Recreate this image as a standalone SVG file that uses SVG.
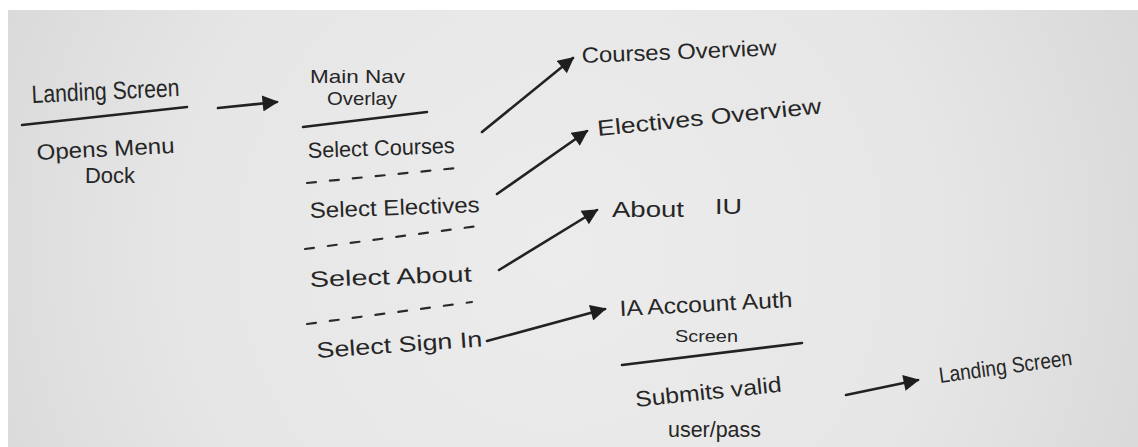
<svg xmlns="http://www.w3.org/2000/svg" width="1138" height="447" viewBox="0 0 1138 447">
  <defs>
    <radialGradient id="paper" cx="560" cy="250" r="640" gradientUnits="userSpaceOnUse">
      <stop offset="0" stop-color="#ececec"/>
      <stop offset="0.6" stop-color="#e6e6e6"/>
      <stop offset="1" stop-color="#d8d8d8"/>
    </radialGradient>
    <marker id="head" viewBox="0 0 10 10" refX="9" refY="5" markerWidth="17" markerHeight="16" markerUnits="userSpaceOnUse" orient="auto">
      <path d="M0,0 L10,5 L0,10 z" fill="#1e1e1e"/>
    </marker>
  </defs>
  <style>
    .ink { font-family: "Liberation Sans", Arial, sans-serif; fill: #262626; }
    .lg { font-size: 25px; }
    .md { font-size: 22px; }
    .sm { font-size: 19px; }
    .xs { font-size: 17px; }
    .rule { stroke: #222; stroke-width: 2.6; fill: none; stroke-linecap: round; }
    .dash { stroke: #2a2a2a; stroke-width: 2.2; fill: none; stroke-linecap: round; stroke-dasharray: 9 14; }
    .arrow { stroke: #222; stroke-width: 2.6; fill: none; stroke-linecap: round; marker-end: url(#head); }
  </style>

  <!-- sheet of paper -->
  <rect x="0" y="0" width="1138" height="447" fill="#ffffff"/>
  <rect x="8" y="10" width="1130" height="437" fill="url(#paper)"/>

  <!-- landing screen card -->
  <g id="landing-screen">
    <text class="ink lg" x="32" y="103" textLength="148" lengthAdjust="spacingAndGlyphs" transform="rotate(-2.7 32 103)">Landing Screen</text>
    <line class="rule" x1="22" y1="125" x2="187" y2="107"/>
    <text class="ink md" x="37" y="160" textLength="138" lengthAdjust="spacingAndGlyphs" transform="rotate(-3 37 160)">Opens Menu</text>
    <text class="ink md" x="85" y="183" textLength="50" lengthAdjust="spacingAndGlyphs">Dock</text>
  </g>

  <!-- main navigation overlay -->
  <g id="main-nav-overlay">
    <text class="ink sm" x="310" y="83" textLength="95" lengthAdjust="spacingAndGlyphs">Main Nav</text>
    <text class="ink sm" x="327" y="105" textLength="70" lengthAdjust="spacingAndGlyphs">Overlay</text>
    <line class="rule" x1="303" y1="127" x2="427" y2="112"/>
    <text class="ink md" x="308" y="158" textLength="147" lengthAdjust="spacingAndGlyphs" transform="rotate(-2 308 158)">Select Courses</text>
    <line class="dash" x1="307" y1="183" x2="457" y2="168"/>
    <text class="ink md" x="310" y="218" textLength="170" lengthAdjust="spacingAndGlyphs" transform="rotate(-2 310 218)">Select Electives</text>
    <line class="dash" x1="305" y1="249" x2="478" y2="226"/>
    <text class="ink md" x="310" y="287" textLength="162" lengthAdjust="spacingAndGlyphs" transform="rotate(-2 310 287)">Select About</text>
    <line class="dash" x1="307" y1="324" x2="472" y2="302"/>
    <text class="ink md" x="317" y="358" textLength="166" lengthAdjust="spacingAndGlyphs" transform="rotate(-4 317 358)">Select Sign In</text>
  </g>

  <g id="courses-overview">
    <text class="ink md" x="582" y="63" textLength="195" lengthAdjust="spacingAndGlyphs" transform="rotate(-2.3 582 63)">Courses Overview</text>
  </g>

  <g id="electives-overview">
    <text class="ink md" x="598" y="136" textLength="225" lengthAdjust="spacingAndGlyphs" transform="rotate(-5.8 598 136)">Electives Overview</text>
  </g>

  <g id="about-iu">
    <text class="ink md" x="612" y="217" textLength="72" lengthAdjust="spacingAndGlyphs">About</text>
    <text class="ink md" x="715" y="214" textLength="27" lengthAdjust="spacingAndGlyphs">IU</text>
  </g>

  <!-- account sign-in screen -->
  <g id="account-auth-screen">
    <text class="ink md" x="620" y="316" textLength="173" lengthAdjust="spacingAndGlyphs" transform="rotate(-3 620 316)">IA Account Auth</text>
    <text class="ink xs" x="675" y="342" textLength="63" lengthAdjust="spacingAndGlyphs">Screen</text>
    <line class="rule" x1="622" y1="365" x2="802" y2="343"/>
    <text class="ink md" x="636" y="407" textLength="147" lengthAdjust="spacingAndGlyphs" transform="rotate(-6 636 407)">Submits valid</text>
    <text class="ink md" x="668" y="437" textLength="93" lengthAdjust="spacingAndGlyphs">user/pass</text>
  </g>

  <g id="landing-screen-return">
    <text class="ink md" x="940" y="383" textLength="134" lengthAdjust="spacingAndGlyphs" transform="rotate(-7.8 940 383)">Landing Screen</text>
  </g>

  <!-- flow arrows -->
  <g id="connectors">
    <line class="arrow" x1="218" y1="108" x2="277" y2="102"/>
    <line class="arrow" x1="482" y1="132" x2="573" y2="58"/>
    <line class="arrow" x1="497" y1="194" x2="587" y2="131"/>
    <line class="arrow" x1="499" y1="270" x2="597" y2="210"/>
    <line class="arrow" x1="487" y1="341" x2="605" y2="309"/>
    <line class="arrow" x1="846" y1="395" x2="918" y2="380"/>
  </g>
</svg>
